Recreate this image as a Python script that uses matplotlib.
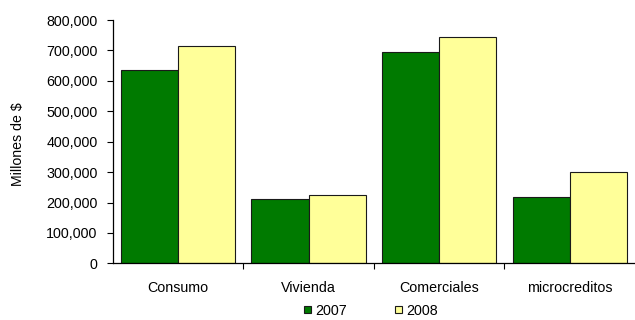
import numpy as np
import matplotlib.pyplot as plt
from matplotlib.ticker import FuncFormatter
from matplotlib.patches import Patch

plt.rcParams['font.family'] = ['Liberation Sans', 'DejaVu Sans']

# Datos (millones de $)
categorias = ['Consumo', 'Vivienda', 'Comerciales', 'microcreditos']
valores_2007 = [635000, 212000, 696000, 219000]
valores_2008 = [713000, 224000, 743000, 300000]
anios = ['2007', '2008']
colores = ['#007A00', '#FFFF99']

fig = plt.figure(figsize=(6.35, 3.2), dpi=100)
ax = fig.add_axes([0.1775, 0.177, 0.8225, 0.7605])

x = np.arange(len(categorias))
ancho = 0.4375
ax.bar(x - ancho / 2, valores_2007, ancho, color=colores[0], edgecolor='#1a1a1a', linewidth=0.8)
ax.bar(x + ancho / 2, valores_2008, ancho, color=colores[1], edgecolor='#1a1a1a', linewidth=0.8)

ax.set_xlim(-0.5, len(categorias) - 0.5)
ax.set_ylim(0, 800000)
ax.set_yticks(np.arange(0, 800001, 100000))
ax.yaxis.set_major_formatter(FuncFormatter(lambda v, p: f'{int(v):,}'))
ax.tick_params(axis='y', length=4, width=0.8, pad=7, labelsize=10.3)

ax.set_xticks(x)
ax.set_xticklabels(categorias, fontsize=10.3)
ax.tick_params(axis='x', which='major', length=0, pad=13)
ax.set_xticks(np.arange(0.5, len(categorias) - 0.5, 1), minor=True)
ax.tick_params(axis='x', which='minor', length=4, width=0.8)

for s in ['top', 'right']:
    ax.spines[s].set_visible(False)
ax.spines['left'].set_linewidth(0.9)
ax.spines['bottom'].set_linewidth(0.9)

ax.set_ylabel('Millones de $', fontsize=10.2)
ax.yaxis.set_label_coords(-0.167, 0.49)

handles = [Patch(facecolor=c, edgecolor='#1a1a1a', linewidth=0.8) for c in colores]
fig.legend(handles, anios, loc='center', bbox_to_anchor=(0.584, 0.029), ncol=2,
           frameon=False, fontsize=10.3, handlelength=0.45, handleheight=0.45,
           handletextpad=0.3, columnspacing=3.4)

fig.savefig('out.png', dpi=100)
